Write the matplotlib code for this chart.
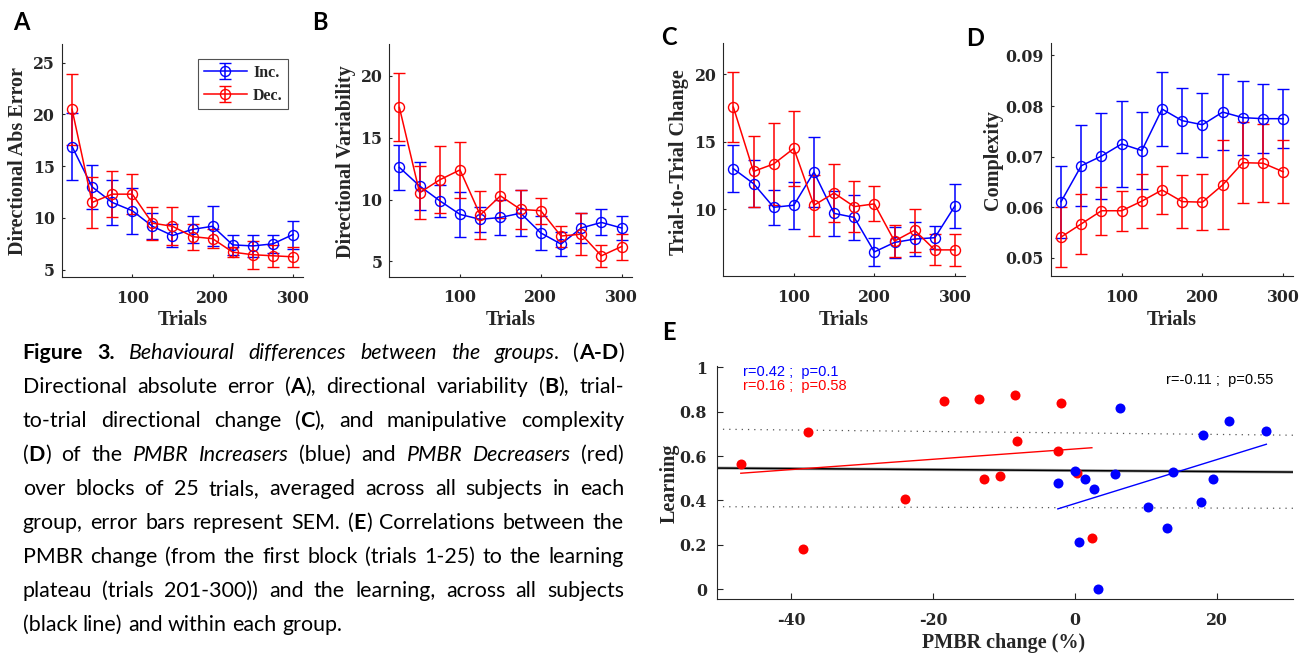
import matplotlib
matplotlib.use("Agg")
import matplotlib.pyplot as plt

plt.rcParams["axes.unicode_minus"] = False

W, H = 1311, 655

trials = [25, 50, 75, 100, 125, 150, 175, 200, 225, 250, 275, 300]

# A - directional absolute error
abs_err_inc = [16.9, 13.0, 11.5, 10.7, 9.2, 8.3, 8.9, 9.2, 7.4, 7.3, 7.5, 8.4]
abs_err_inc_sem = [3.2, 2.15, 2.2, 2.2, 1.25, 1.1, 1.3, 1.95, 0.95, 1.1, 0.85, 1.35]
abs_err_dec = [20.5, 11.5, 12.3, 12.3, 9.5, 9.2, 8.2, 8.0, 6.7, 6.45, 6.35, 6.25]
abs_err_dec_sem = [3.45, 2.45, 2.25, 1.9, 1.6, 1.85, 1.25, 0.9, 0.45, 1.35, 1.05, 0.97]

# B - directional variability
var_inc = [12.6, 11.1, 9.9, 8.8, 8.4, 8.55, 8.9, 7.3, 6.4, 7.7, 8.15, 7.7]
var_inc_sem = [1.85, 1.95, 1.3, 1.8, 1.0, 1.4, 1.85, 1.35, 0.95, 1.25, 1.05, 1.0]
var_dec = [17.45, 10.55, 11.6, 12.4, 8.75, 10.3, 9.2, 9.1, 7.05, 7.2, 5.45, 6.2]
var_dec_sem = [2.75, 2.15, 2.7, 2.25, 1.95, 1.8, 1.6, 1.05, 0.85, 1.7, 0.9, 1.05]

# C - trial-to-trial change
chg_inc = [13.0, 11.9, 10.15, 10.3, 12.75, 9.7, 9.4, 6.85, 7.55, 7.8, 7.9, 10.25]
chg_inc_sem = [1.73, 1.75, 1.3, 1.72, 2.58, 1.67, 1.66, 1.03, 1.17, 1.25, 0.85, 1.63]
chg_dec = [17.55, 12.8, 13.35, 14.5, 10.3, 11.2, 10.2, 10.4, 7.65, 8.45, 7.0, 7.0]
chg_dec_sem = [2.57, 2.6, 3.05, 2.77, 2.25, 2.15, 1.9, 1.3, 1.17, 1.6, 1.15, 1.2]

# D - complexity
cpx_inc = [0.0611, 0.0682, 0.0701, 0.0725, 0.0712, 0.0794, 0.0771, 0.0763, 0.0788, 0.0777, 0.0775, 0.0775]
cpx_inc_sem = [0.0071, 0.008, 0.0085, 0.0085, 0.0077, 0.0074, 0.0064, 0.0063, 0.0075, 0.0073, 0.0068, 0.0058]
cpx_dec = [0.0541, 0.0567, 0.0593, 0.0593, 0.0612, 0.0634, 0.0611, 0.061, 0.0644, 0.0688, 0.0687, 0.067]
cpx_dec_sem = [0.006, 0.0059, 0.0047, 0.004, 0.0054, 0.0047, 0.0053, 0.0055, 0.0088, 0.008, 0.0077, 0.0062]

# E - PMBR change vs learning
dec_pmbr = [-47.1, -37.6, -38.3, -24.0, -18.4, -13.5, -12.8, -10.6, -8.5, -8.1, -1.9, -2.4, 0.3, 2.4]
dec_learn = [0.563, 0.709, 0.180, 0.405, 0.850, 0.857, 0.495, 0.510, 0.875, 0.668, 0.838, 0.623, 0.525, 0.233]
inc_pmbr = [-2.4, 0.0, 1.5, 2.7, 0.6, 3.2, 5.6, 6.3, 10.3, 13.0, 13.9, 17.8, 18.0, 19.5, 21.7, 27.0]
inc_learn = [0.477, 0.533, 0.498, 0.452, 0.212, 0.0, 0.521, 0.815, 0.371, 0.276, 0.527, 0.393, 0.696, 0.498, 0.758, 0.713]

# regression lines (slope, intercept) as drawn
fit_all = (-0.000222, 0.5348)
band_hi = (-0.000333, 0.7042)
band_lo = (-0.0000862, 0.3676)
fit_inc = (0.0099, 0.386)
fit_dec = (0.00232, 0.632)

stats_inc = "r=0.42 ;  p=0.1"
stats_dec = "r=0.16 ;  p=0.58"
stats_all = "r=-0.11 ;  p=0.55"

caption = [
    "**Figure 3.** *Behavioural differences between the groups*. (**A-D**)",
    "Directional absolute error (**A**), directional variability (**B**), trial-",
    "to-trial directional change (**C**), and manipulative complexity",
    "(**D**) of the *PMBR Increasers* (blue) and *PMBR Decreasers* (red)",
    "over blocks of 25 trials, averaged across all subjects in each",
    "group, error bars represent SEM. (**E**) Correlations between the",
    "PMBR change (from the first block (trials 1-25) to the learning",
    "plateau (trials 201-300)) and the learning, across all subjects",
    "(black line) and within each group.",
]

INK = "#262626"
SERIF = "Liberation Serif"
TICK_FONT = "DejaVu Serif"

fig = plt.figure(figsize=(W / 100, H / 100), dpi=100)


def px_axes(l, t, r, b):
    return fig.add_axes([l / W, 1 - b / H, (r - l) / W, (b - t) / H])


def ftext(x, y, s, **kw):
    return fig.text(x / W, 1 - y / H, s, **kw)


def style_axes(ax, ticklen=2.5, xpad=9, ypad=5):
    for side in ["top", "right"]:
        ax.spines[side].set_visible(False)
    for side in ["left", "bottom"]:
        ax.spines[side].set_color(INK)
        ax.spines[side].set_linewidth(0.8)
    ax.tick_params(direction="in", length=ticklen, width=0.8, color=INK,
                   labelcolor=INK, labelsize=11.3)
    ax.tick_params(axis="x", pad=xpad)
    ax.tick_params(axis="y", pad=ypad)
    for lab in ax.get_xticklabels() + ax.get_yticklabels():
        lab.set_fontfamily(TICK_FONT)
        lab.set_fontweight("bold")


def group_plot(ax, inc, inc_sem, dec, dec_sem):
    kw = dict(marker="o", ms=7.2, mfc="none", mew=1.0, lw=1.1,
              elinewidth=1.1, capsize=4.3, capthick=1.1)
    h1 = ax.errorbar(trials, inc, yerr=inc_sem, color="#0000ff", **kw)
    h2 = ax.errorbar(trials, dec, yerr=dec_sem, color="#ff0000", **kw)
    ax.set_xlim(12.5, 312.5)
    ax.set_xticks([100, 200, 300])
    return h1, h2


label_kw = dict(fontfamily=SERIF, fontweight="bold", fontsize=14.5, color=INK,
                ha="center", va="center")
letter_kw = dict(fontfamily="Lato", fontweight="bold", fontsize=17, color="black",
                 ha="center", va="center")

# Panel A
axA = px_axes(62, 44, 303, 277)
hA = group_plot(axA, abs_err_inc, abs_err_inc_sem, abs_err_dec, abs_err_dec_sem)
axA.set_ylim(4.3, 26.8)
axA.set_yticks([5, 10, 15, 20, 25])
style_axes(axA)
ftext(18, 161, "Directional Abs Error", rotation=90, **label_kw)
ftext(182.5, 320, "Trials", **label_kw)
leg = axA.legend(hA, ["Inc.", "Dec."], loc="upper left",
                 bbox_to_anchor=(198 / W, 1 - 59 / H), bbox_transform=fig.transFigure,
                 prop=dict(family=SERIF, weight="bold", size=11.5),
                 frameon=True, fancybox=False, handlelength=2.7,
                 borderpad=0.35, labelspacing=0.45, handletextpad=0.4, borderaxespad=0)
leg.get_frame().set_edgecolor(INK)
leg.get_frame().set_linewidth(0.8)
for t in leg.get_texts():
    t.set_color(INK)

# Panel B
axB = px_axes(389.3, 44.3, 631.7, 276.7)
group_plot(axB, var_inc, var_inc_sem, var_dec, var_dec_sem)
axB.set_ylim(3.76, 22.56)
axB.set_yticks([5, 10, 15, 20])
style_axes(axB)
ftext(346, 162, "Directional Variability", rotation=90, **label_kw)
ftext(510.5, 320, "Trials", **label_kw)

# Panel C
axC = px_axes(723.3, 43.3, 965, 276)
group_plot(axC, chg_inc, chg_inc_sem, chg_dec, chg_dec_sem)
axC.set_ylim(5.07, 22.27)
axC.set_yticks([10, 15, 20])
style_axes(axC)
ftext(679.3, 162.5, "Trial-to-Trial Change", rotation=90, **label_kw)
ftext(844, 320, "Trials", **label_kw)

# Panel D
axD = px_axes(1051, 43.3, 1293.3, 276)
group_plot(axD, cpx_inc, cpx_inc_sem, cpx_dec, cpx_dec_sem)
axD.set_ylim(0.0464, 0.0924)
axD.set_yticks([0.05, 0.06, 0.07, 0.08, 0.09])
axD.set_yticklabels(["0.05", "0.06", "0.07", "0.08", "0.09"])
style_axes(axD)
ftext(993.3, 160, "Complexity", rotation=90, **label_kw)
ftext(1172, 320, "Trials", **label_kw)

# Panel E
axE = px_axes(716.7, 365.7, 1293.3, 599.3)
xlo, xhi = -50.5, 30.8
axE.set_xlim(xlo, xhi)
axE.set_ylim(-0.045, 1.007)


def fit_line(ax, fit, x0, x1, **kw):
    m, b = fit
    ax.plot([x0, x1], [b + m * x0, b + m * x1], **kw)


fit_line(axE, band_hi, xlo, xhi, color="#555555", lw=0.9, ls=(0, (1, 4)))
fit_line(axE, band_lo, xlo, xhi, color="#555555", lw=0.9, ls=(0, (1, 4)))
fit_line(axE, fit_all, xlo, xhi, color="#aaaaaa", lw=2.2)
fit_line(axE, fit_all, xlo, xhi, color="black", lw=1.1)
axE.plot(dec_pmbr, dec_learn, "o", color="#ff0000", ms=7.2, mew=0)
axE.plot(inc_pmbr, inc_learn, "o", color="#0000ff", ms=7.2, mew=0)
fit_line(axE, fit_dec, min(dec_pmbr), max(dec_pmbr), color="#ff0000", lw=1.0)
fit_line(axE, fit_inc, min(inc_pmbr), max(inc_pmbr), color="#0000ff", lw=1.0)
axE.set_xticks([-40, -20, 0, 20])
axE.set_yticks([0, 0.2, 0.4, 0.6, 0.8, 1])
axE.set_yticklabels(["0", "0.2", "0.4", "0.6", "0.8", "1"])
style_axes(axE, ticklen=4, xpad=9, ypad=7)
ann_kw = dict(fontfamily="Liberation Sans", fontsize=10.5, va="top", ha="left")
axE.text(-46.8, 1.012, stats_inc, color="#0000ff", **ann_kw)
axE.text(-46.8, 0.948, stats_dec, color="#ff0000", **ann_kw)
axE.text(12.8, 0.975, stats_all, color="black", **ann_kw)
ftext(670, 483, "Learning", rotation=90, **label_kw)
ftext(1004, 643, "PMBR change (%)", **label_kw)

# panel letters
for s, x, y in [("A", 21.5, 23), ("B", 320, 23), ("C", 669, 37.5),
                ("D", 975.5, 38), ("E", 669, 332)]:
    ftext(x, y, s, **letter_kw)


# caption, justified
def parse_words(line):
    words, cur, run, style = [], [], "", "r"
    i = 0
    while i < len(line):
        if line.startswith("**", i):
            if run:
                cur.append((run, style))
                run = ""
            style = "r" if style == "b" else "b"
            i += 2
            continue
        if line[i] == "*":
            if run:
                cur.append((run, style))
                run = ""
            style = "r" if style == "i" else "i"
            i += 1
            continue
        if line[i] == " ":
            if run:
                cur.append((run, style))
                run = ""
            if cur:
                words.append(cur)
                cur = []
            i += 1
            continue
        run += line[i]
        i += 1
    if run:
        cur.append((run, style))
    if cur:
        words.append(cur)
    return words


styles = {"r": {}, "b": {"fontweight": "bold"}, "i": {"fontstyle": "italic"}}
renderer = fig.canvas.get_renderer()


def run_width(s, st, fs):
    t = fig.text(0, 0, s, fontsize=fs, fontfamily="Lato", **styles[st])
    w = t.get_window_extent(renderer).width
    t.remove()
    return w


cap_x0, cap_x1 = 22.7, 624.0
parsed = [parse_words(line) for line in caption]

# pick the largest size for which every justified line still has a real space
cap_fs = 15.4
while cap_fs > 10:
    sp = run_width("a a", "r", cap_fs) - run_width("aa", "r", cap_fs)
    ok = True
    for words in parsed[:-1]:
        tot = sum(run_width(s, st, cap_fs) for w in words for s, st in w)
        if tot + 0.85 * sp * (len(words) - 1) > cap_x1 - cap_x0:
            ok = False
            break
    if ok:
        break
    cap_fs -= 0.2

space_w = run_width("a a", "r", cap_fs) - run_width("aa", "r", cap_fs)
for k, words in enumerate(parsed):
    y = 359.3 + 33.96 * k
    widths = [[run_width(s, st, cap_fs) for s, st in w] for w in words]
    total = sum(sum(w) for w in widths)
    if k < len(parsed) - 1:
        gap = (cap_x1 - cap_x0 - total) / (len(words) - 1)
    else:
        gap = space_w
    x = cap_x0
    for w, ws in zip(words, widths):
        for (s, st), rw in zip(w, ws):
            ftext(x, y, s, fontsize=cap_fs, fontfamily="Lato", color="black",
                  va="baseline", ha="left", **styles[st])
            x += rw
        x += gap

fig.savefig("out.png", dpi=100)
